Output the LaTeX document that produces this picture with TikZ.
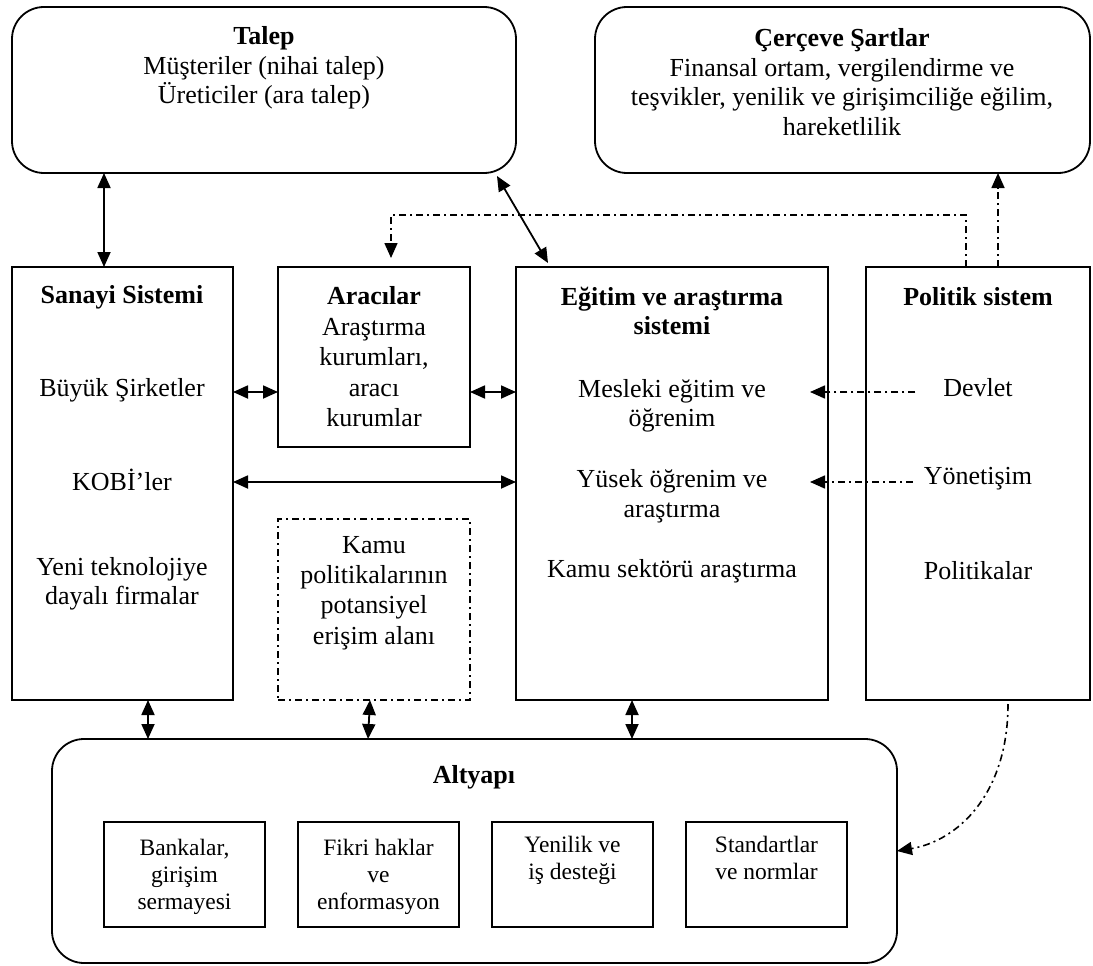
\documentclass[tikz,border=0pt]{standalone}
\usepackage{fontspec}
\setmainfont{Liberation Serif}
\usetikzlibrary{arrows.meta,calc}
\begin{document}
\begin{tikzpicture}[x=1pt,y=-1pt,
  font=\fontsize{26}{29.5}\selectfont,
  every node/.style={inner sep=0pt, outer sep=0pt},
  ddash/.style={dash pattern=on 7pt off 4pt on 2pt off 4pt},
  rbox/.style={draw, line width=1.8pt, rounded corners=32pt, anchor=north west},
  sbox/.style={draw, line width=1.8pt, anchor=north west},
  dbox/.style={draw, line width=1.6pt, ddash, anchor=north west},
  txt/.style={align=center},
  small/.style={font=\fontsize{23.5}{27}\selectfont},
  dbl/.style={line width=1.8pt, {Triangle[length=15pt,width=13pt]}-{Triangle[length=15pt,width=13pt]}},
  sgl/.style={line width=1.6pt, ddash, -{Triangle[length=15pt,width=13pt]}},
]
\useasboundingbox (0,0) rectangle (1093,966);

% boxes
\node[rbox, minimum width=504pt, minimum height=166pt] (talep) at (12,7) {};
\node[rbox, minimum width=495pt, minimum height=166pt] (cer) at (595,7) {};
\node[sbox, minimum width=221pt, minimum height=433pt] (san) at (12,267) {};
\node[sbox, minimum width=192pt, minimum height=180pt] (arac) at (278,267) {};
\node[sbox, minimum width=312pt, minimum height=433pt] (egi) at (516,267) {};
\node[sbox, minimum width=224pt, minimum height=433pt] (pol) at (866,267) {};
\node[dbox, minimum width=192pt, minimum height=181pt] (kamu) at (278,519) {};
\node[rbox, minimum width=845pt, minimum height=224pt] (alt) at (52,739) {};
\node[sbox, minimum width=161pt, minimum height=105pt] (b1) at (104,822) {};
\node[sbox, minimum width=161pt, minimum height=105pt] (b2) at (298,822) {};
\node[sbox, minimum width=161pt, minimum height=105pt] (b3) at (492,822) {};
\node[sbox, minimum width=161pt, minimum height=105pt] (b4) at (686,822) {};

% texts
\node[txt] (ttal) at (264,68) {\textbf{Talep}\\Müşteriler (nihai talep)\\Üreticiler (ara talep)};
\node[txt] (tcer) at (842,82) {\textbf{Çerçeve Şartlar}\\Finansal ortam, vergilendirme ve\\teşvikler, yenilik ve girişimciliğe eğilim,\\hareketlilik};
\node[txt] (tsan) at (122,297) {\textbf{Sanayi Sistemi}};
\node[txt] (tbuy) at (122,390) {Büyük Şirketler};
\node[txt] (tkobi) at (122,480) {KOBİ’ler};
\node[txt] (tyeni) at (122,584) {Yeni teknolojiye\\dayalı firmalar};
\node[txt, font=\fontsize{26}{30.5}\selectfont] (tarac) at (374,357) {\textbf{Aracılar}\\Araştırma\\kurumları,\\aracı\\kurumlar};
\node[txt] (tegi) at (672,311) {\textbf{Eğitim ve araştırma}\\\textbf{sistemi}};
\node[txt] (tmes) at (672,406) {Mesleki eğitim ve\\öğrenim};
\node[txt] (tyuk) at (672,496) {Yüsek öğrenim ve\\araştırma};
\node[txt] (tkam) at (672,571) {Kamu sektörü araştırma};
\node[txt] (tpol) at (978,297) {\textbf{Politik sistem}};
\node[txt] (tdev) at (978,388) {Devlet};
\node[txt] (tyon) at (978,479) {Yönetişim};
\node[txt] (tpk) at (978,571) {Politikalar};
\node[txt, font=\fontsize{26}{30.5}\selectfont] (tkpa) at (374,593) {Kamu\\politikalarının\\potansiyel\\erişim alanı};
\node[txt] (talt) at (474,777) {\textbf{Altyapı}};
\node[txt, small] (tb1) at ([yshift=-2pt]b1.center) {Bankalar,\\girişim\\sermayesi};
\node[txt, small] (tb2) at ([yshift=-2pt]b2.center) {Fikri haklar\\ve\\enformasyon};
\node[txt, small, anchor=north] (tb3) at ([yshift=-14pt]b3.north) {Yenilik ve\\iş desteği};
\node[txt, small, anchor=north] (tb4) at ([yshift=-14pt]b4.north) {Standartlar\\ve normlar};

% helper coordinates
\coordinate (r1) at (0,392);
\coordinate (r2) at (0,482);
\coordinate (dl) at (391,215);
\coordinate (p1) at ([xshift=100pt]pol.north west);
\coordinate (p2) at ([xshift=132pt]pol.north west);
\coordinate (p3) at ([xshift=142pt]pol.south west);

% connectors
\draw[dbl] ([xshift=92pt]talep.south west) -- ([xshift=92pt]san.north west);
\draw[dbl] ([xshift=-19pt,yshift=-3pt]talep.south east) -- ([xshift=32pt,yshift=4pt]egi.north west);
\draw[sgl] (p1) |- (dl) -- ([yshift=9pt]arac.north -| dl);
\draw[sgl] (p2) -- (p2 |- cer.south);
\draw[dbl] (san.east |- r1) -- (arac.west |- r1);
\draw[dbl] (arac.east |- r1) -- (egi.west |- r1);
\draw[dbl] (san.east |- r2) -- (egi.west |- r2);
\draw[sgl] ([xshift=-28pt]tdev.west |- r1) -- ([xshift=-18pt]egi.east |- r1);
\draw[sgl] ([xshift=-11pt]tyon.west |- r2) -- ([xshift=-18pt]egi.east |- r2);
\draw[dbl] ([xshift=136pt]san.south west) -- ([xshift=96pt]alt.north west);
\draw[dbl] ([xshift=92pt]kamu.south west) -- ([xshift=316pt]alt.north west);
\draw[dbl] ([xshift=116pt]egi.south west) -- ([xshift=580pt]alt.north west);
\draw[sgl] ([yshift=-4pt]p3) .. controls ([yshift=-95pt]p3) and ([xshift=60pt,yshift=10pt]alt.east) .. (alt.east);
\end{tikzpicture}
\end{document}
